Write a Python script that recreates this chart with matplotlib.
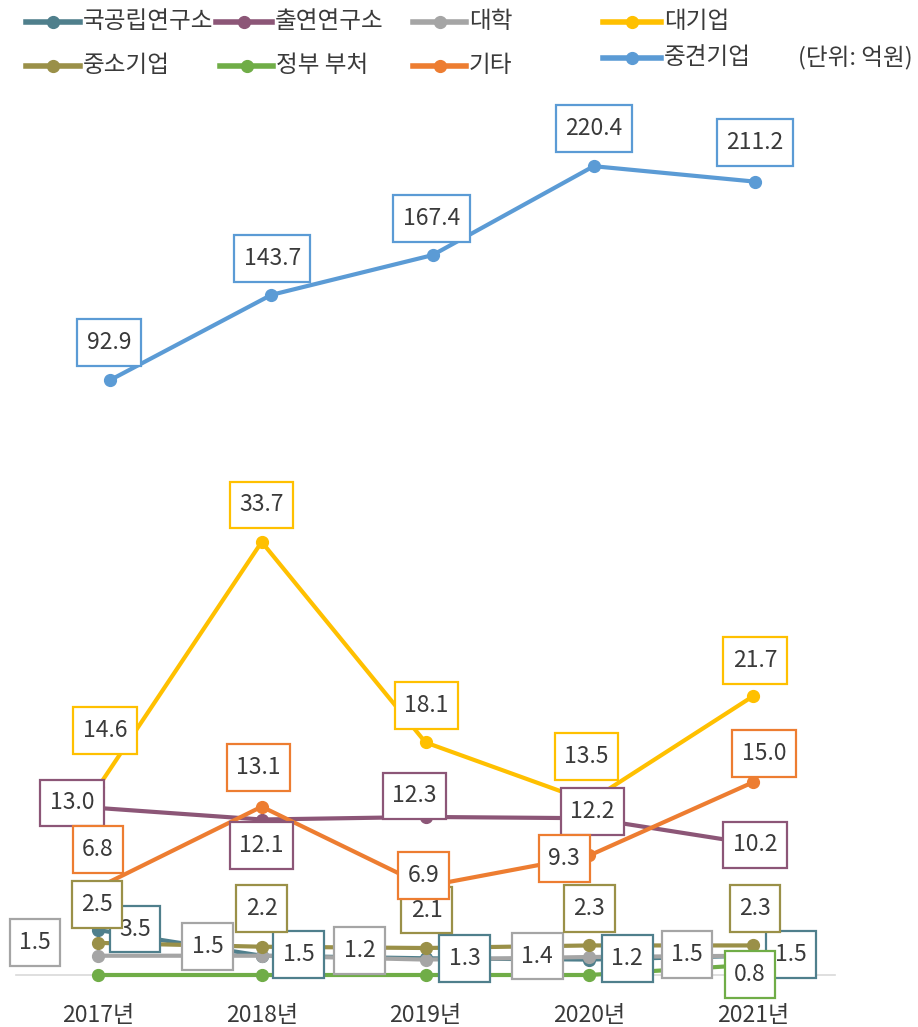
import matplotlib.pyplot as plt
from matplotlib.lines import Line2D
from matplotlib.path import Path

plt.rcParams['font.family'] = ['Noto Sans CJK KR', 'DejaVu Sans']

# R&D 투자 금액 추이 (단위: 억원)
years = ['2017년', '2018년', '2019년', '2020년', '2021년']

national_lab = [3.5, 1.5, 1.3, 1.2, 1.5]      # 국공립연구소
funded_lab = [13.0, 12.1, 12.3, 12.2, 10.2]   # 출연연구소
university = [1.5, 1.5, 1.2, 1.4, 1.5]        # 대학
large_firm = [14.6, 33.7, 18.1, 13.5, 21.7]   # 대기업
mid_firm = [92.9, 143.7, 167.4, 220.4, 211.2]  # 중견기업
small_firm = [2.5, 2.2, 2.1, 2.3, 2.3]        # 중소기업
government = [0.0, 0.0, 0.0, 0.0, 0.8]        # 정부 부처
others = [6.8, 13.1, 6.9, 9.3, 15.0]          # 기타

C_NAT = '#4f7f8c'
C_FUND = '#8c5677'
C_UNIV = '#a5a5a5'
C_LARGE = '#ffc000'
C_MID = '#5b9bd5'
C_SMALL = '#9a9048'
C_GOV = '#70ad47'
C_ETC = '#ed7d31'
TXT = '#3a3a3a'

# label offsets in pixels from each point (None = no label)
off_nat = [(37, 1), (37, 1), (39, 0), (38, 1), (38, 1)]
off_fund = [(-26, 5), (0, -26), (-11, 21), (3, 7), (2, -1)]
off_univ = [(-63, 13), (-54, 9), (-66, 9), (-52, 1), (-66, 1)]
off_large = [(7, 57), (0, 37), (1, 37), (-3, 45), (2, 36)]
off_mid = [(-1, 38), (1, 36), (-1, 37), (0, 38), (0, 39)]
off_small = [(-1, 38), (0, 38), (1, 38), (0, 37), (2, 37)]
off_gov = [None, None, None, None, (-3, -10)]
off_etc = [(0, 38), (-3, 39), (-2, 11), (-25, -3), (11, 29)]

W, H = 918, 1027
fig = plt.figure(figsize=(W / 100, H / 100), dpi=100)


def px_axes(x0, x1, y_top, y_bot):
    return fig.add_axes([x0 / W, 1 - y_bot / H, (x1 - x0) / W, (y_bot - y_top) / H])


def label_box(x0, y0, width, height, mutation_size):
    # square box, a little taller than wide padding
    px, py = 0.41 * mutation_size, 0.52 * mutation_size
    x0, y0 = x0 - px, y0 - py
    x1, y1 = x0 + width + 2 * px, y0 + height + 2 * py
    return Path([(x0, y0), (x1, y0), (x1, y1), (x0, y1), (x0, y0)], closed=True)


# lower panel (primary series) and upper panel (중견기업)
ax = px_axes(16, 835, 512.4, 975)
ax_top = px_axes(29.4, 835.6, 133.3, 401.8)

x = range(len(years))
for a in (ax, ax_top):
    a.set_xlim(-0.5, len(years) - 0.5)
    a.patch.set_alpha(0)
    for s in a.spines.values():
        s.set_visible(False)
    a.set_yticks([])
ax.set_ylim(0, 36)
ax_top.set_ylim(80, 240)
ax_top.set_xticks([])

ax.spines['bottom'].set_visible(True)
ax.spines['bottom'].set_color('#d9d9d9')
ax.spines['bottom'].set_linewidth(1.2)
ax.set_xticks(list(x))
ax.set_xticklabels(years, fontsize=16.5, color=TXT)
ax.tick_params(axis='x', length=0, pad=21)


def draw(a, vals, color, offsets, z):
    a.plot(x, vals, color=color, lw=3, marker='o', ms=8.5, zorder=z, clip_on=False,
           solid_capstyle='round')
    for i, v in enumerate(vals):
        if offsets[i] is None:
            continue
        a.annotate(f'{v:.1f}', (i, v), xytext=offsets[i], textcoords='offset pixels',
                   ha='center', va='center', fontsize=16.5, color=TXT, zorder=20 + z,
                   annotation_clip=False,
                   bbox=dict(boxstyle=label_box, fc='white', ec=color, lw=1.6))


draw(ax, national_lab, C_NAT, off_nat, 1)
draw(ax, funded_lab, C_FUND, off_fund, 2)
draw(ax, university, C_UNIV, off_univ, 3)
draw(ax, large_firm, C_LARGE, off_large, 4)
draw(ax_top, mid_firm, C_MID, off_mid, 5)
draw(ax, small_firm, C_SMALL, off_small, 6)
draw(ax, government, C_GOV, off_gov, 7)
draw(ax, others, C_ETC, off_etc, 8)

# legend, laid out by hand
lg = fig.add_axes([0, 0, 1, 1])
lg.set_xlim(0, W)
lg.set_ylim(H, 0)
lg.axis('off')
legend_items = [
    ('국공립연구소', C_NAT, 26, 80, 22),
    ('출연연구소', C_FUND, 216, 272, 22),
    ('대학', C_UNIV, 413, 466, 22),
    ('대기업', C_LARGE, 603, 661, 22),
    ('중소기업', C_SMALL, 26, 80, 66),
    ('정부 부처', C_GOV, 220, 273, 66),
    ('기타', C_ETC, 413, 466, 66),
    ('중견기업', C_MID, 603, 661, 58),
]
for name, color, x0, x1, y in legend_items:
    lg.add_line(Line2D([x0, x1], [y, y], color=color, lw=4))
    lg.plot((x0 + x1) / 2, y, 'o', color=color, ms=8.5)
    lg.text(x1 + 3, y, name, fontsize=17, color=TXT, va='center', ha='left')
lg.text(798, 58, '(단위: 억원)', fontsize=17, color=TXT, va='center', ha='left')

fig.savefig('out.png', dpi=100, facecolor='white')
